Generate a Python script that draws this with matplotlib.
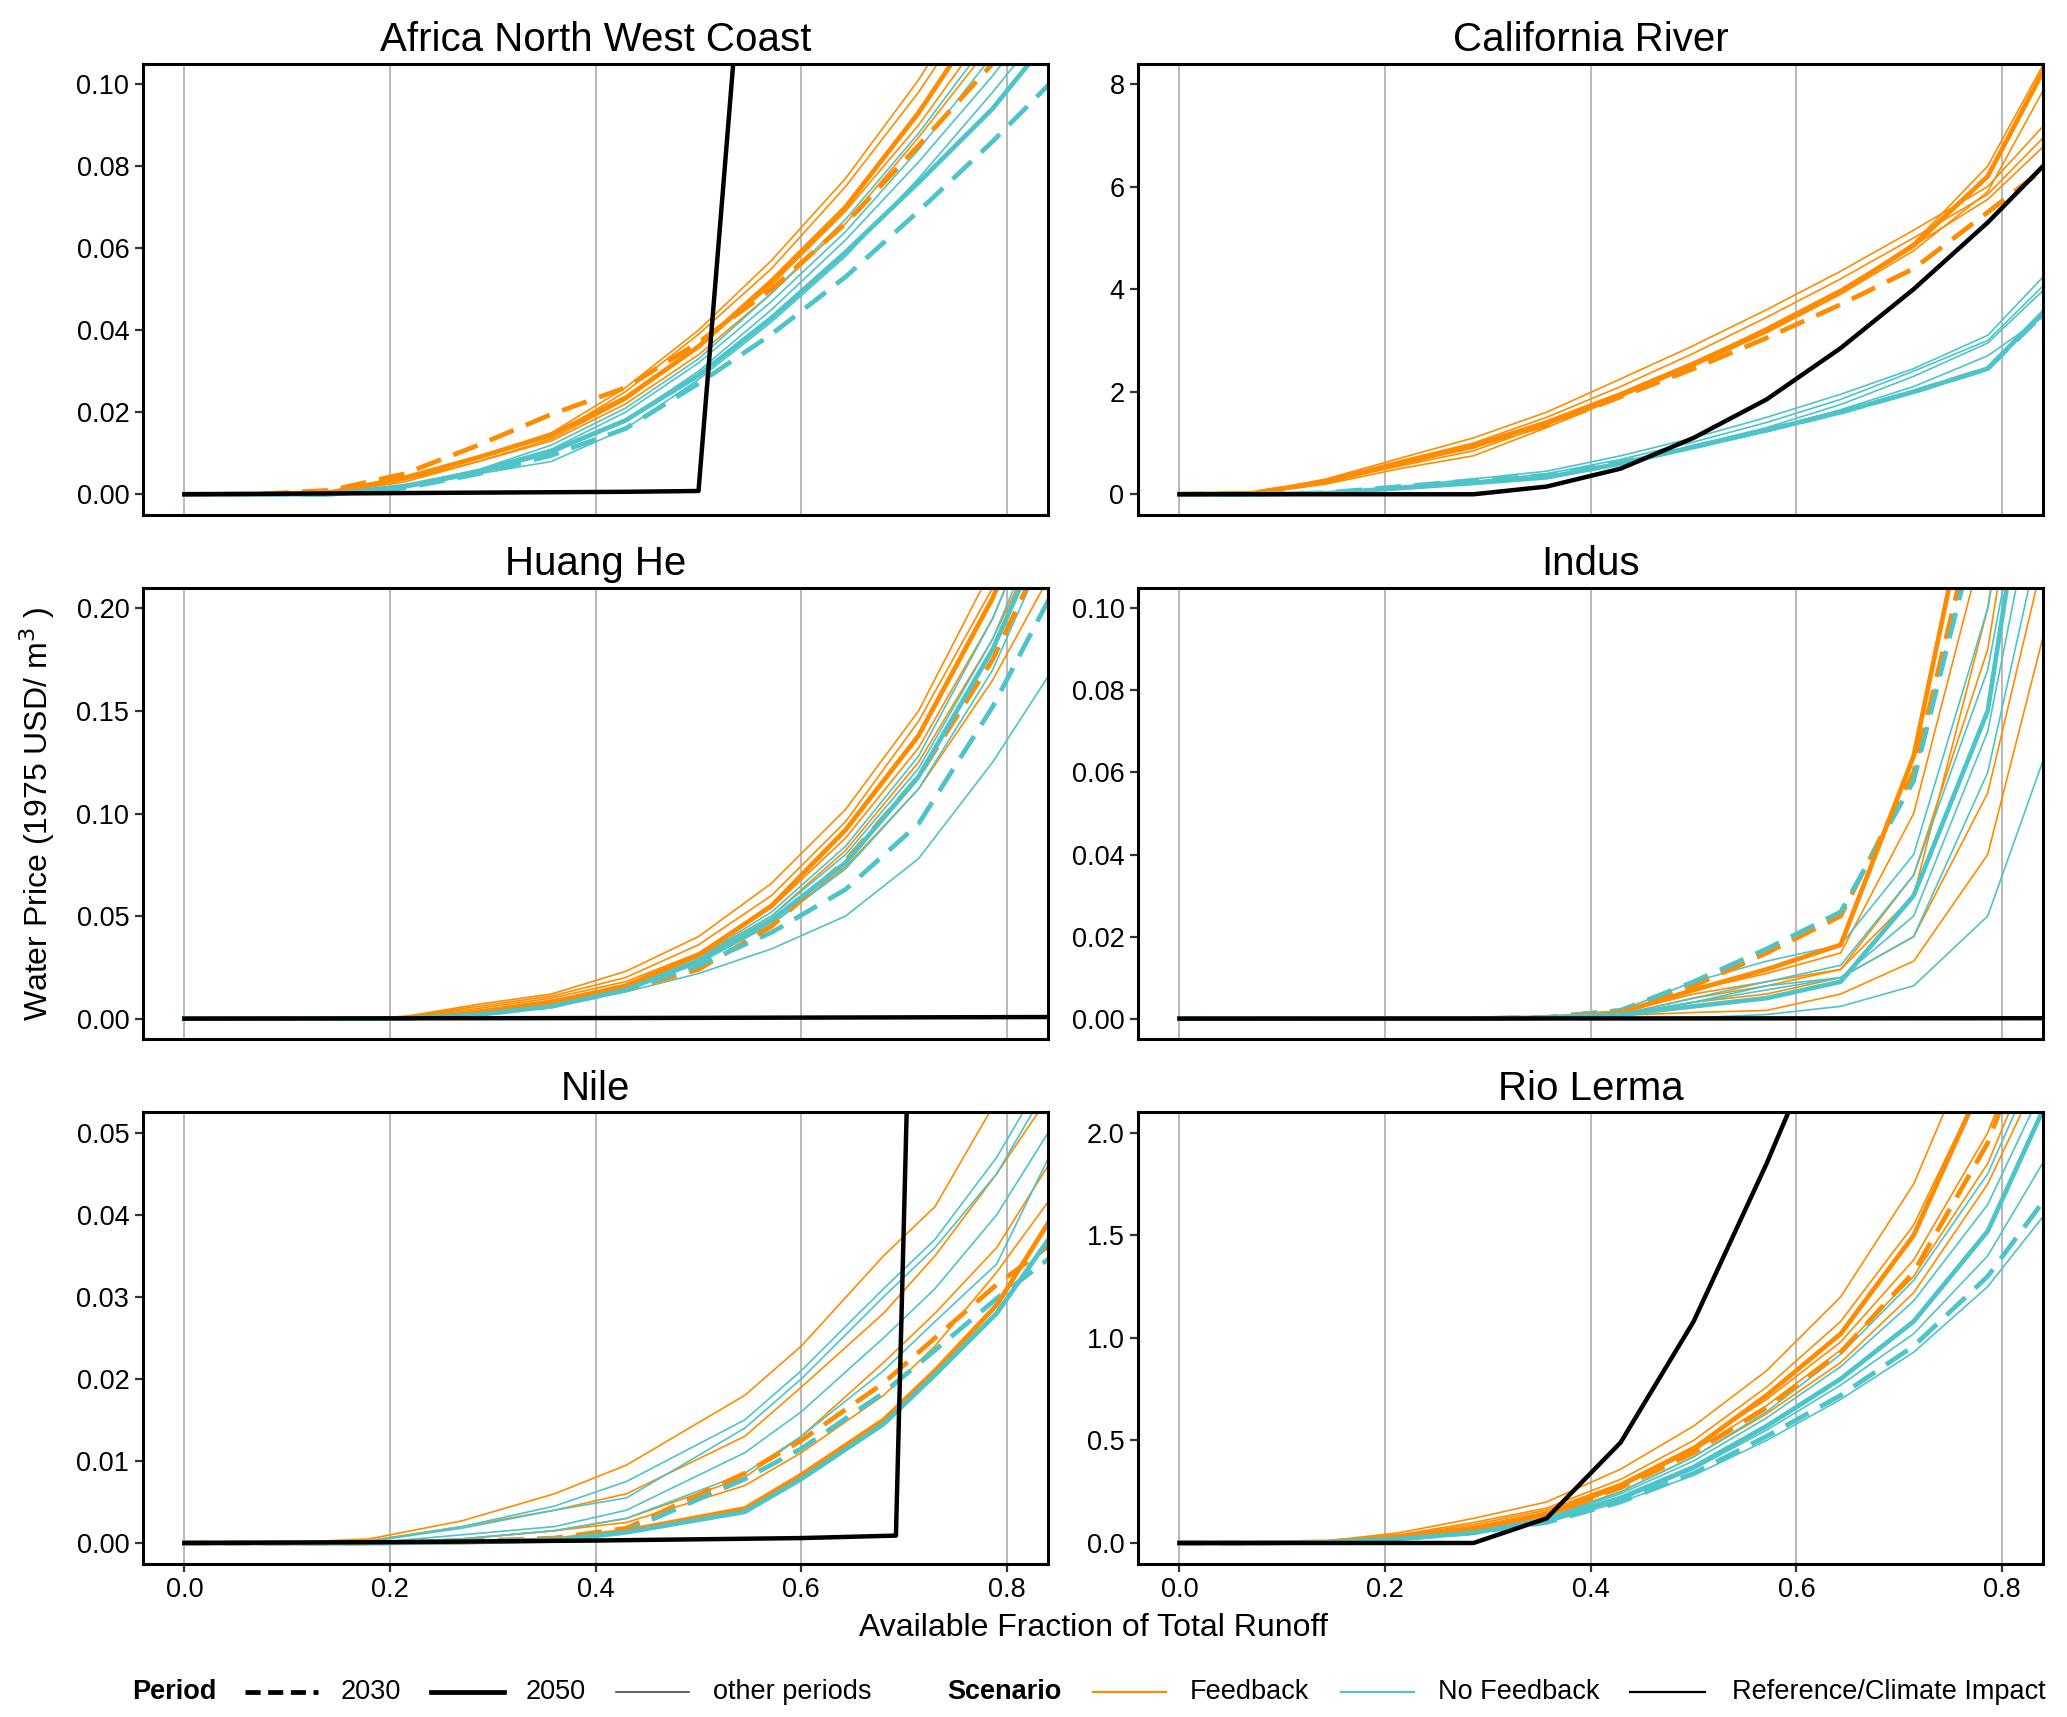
import numpy as np
import matplotlib
matplotlib.use("Agg")
import matplotlib.pyplot as plt
from matplotlib.lines import Line2D

plt.rcParams['font.family'] = ['Liberation Sans', 'DejaVu Sans']

ORANGE = '#FF8C00'
CYAN = '#4DC4C9'

# available fraction of total runoff (grid of the supply curves)
frac = [0, 0.071, 0.143, 0.214, 0.286, 0.357, 0.429, 0.5, 0.571, 0.643, 0.714, 0.786, 0.857]
frac_nile = [0, 0.09, 0.18, 0.27, 0.36, 0.43, 0.545, 0.6, 0.68, 0.73, 0.79, 0.86]

# ---- Africa North West Coast
africa_fb_2030 = [0, 0, 0.001, 0.005, 0.012, 0.0195, 0.026, 0.037, 0.05, 0.066, 0.085, 0.105, 0.13]
africa_fb_2050 = [0, 0, 0.0005, 0.004, 0.009, 0.0145, 0.0235, 0.036, 0.052, 0.07, 0.093, 0.12, 0.15]
africa_fb_other = [
    [0, 0, 0.0005, 0.004, 0.009, 0.015, 0.026, 0.040, 0.057, 0.077, 0.101, 0.13, 0.16],
    [0, 0, 0.0005, 0.004, 0.009, 0.014, 0.025, 0.039, 0.055, 0.075, 0.098, 0.125, 0.155],
    [0, 0, 0.0005, 0.0035, 0.008, 0.0135, 0.023, 0.036, 0.051, 0.069, 0.09, 0.115, 0.145],
    [0, 0, 0.0004, 0.003, 0.008, 0.013, 0.022, 0.034, 0.049, 0.066, 0.087, 0.11, 0.14],
]
africa_nf_2030 = [0, 0, 0, 0.0015, 0.005, 0.0095, 0.016, 0.027, 0.039, 0.053, 0.069, 0.086, 0.104]
africa_nf_2050 = [0, 0, 0, 0.002, 0.0055, 0.0105, 0.018, 0.029, 0.043, 0.059, 0.076, 0.094, 0.116]
africa_nf_other = [
    [0, 0, 0, 0.002, 0.006, 0.011, 0.02, 0.032, 0.047, 0.064, 0.084, 0.107, 0.13],
    [0, 0, 0, 0.002, 0.006, 0.012, 0.021, 0.033, 0.049, 0.067, 0.088, 0.112, 0.14],
    [0, 0, 0, 0.002, 0.005, 0.010, 0.018, 0.030, 0.045, 0.062, 0.081, 0.102, 0.125],
    [0, 0, 0, 0.0015, 0.005, 0.008, 0.016, 0.028, 0.042, 0.058, 0.077, 0.098, 0.12],
]
africa_ref_x = [0, 0.143, 0.286, 0.429, 0.5, 0.571]
africa_ref = [0, 0.0002, 0.0004, 0.0006, 0.0008, 0.22]

# ---- California River
calif_fb_2030 = [0, 0.02, 0.25, 0.6, 0.95, 1.35, 1.9, 2.45, 3.05, 3.7, 4.4, 5.5, 6.6]
calif_fb_2050 = [0, 0.02, 0.25, 0.6, 0.95, 1.4, 1.95, 2.55, 3.2, 3.95, 4.85, 6.2, 8.9]
calif_fb_other = [
    [0, 0.02, 0.3, 0.7, 1.1, 1.6, 2.25, 2.9, 3.6, 4.35, 5.15, 6.0, 7.55],
    [0, 0.02, 0.28, 0.65, 1.0, 1.5, 2.1, 2.75, 3.45, 4.2, 5.0, 5.85, 7.3],
    [0, 0.02, 0.25, 0.55, 0.85, 1.35, 1.9, 2.55, 3.25, 4.0, 4.85, 5.75, 7.1],
    [0, 0.02, 0.25, 0.6, 0.9, 1.4, 1.95, 2.55, 3.2, 3.95, 4.9, 6.4, 9.0],
    [0, 0.01, 0.2, 0.5, 0.75, 1.3, 1.9, 2.5, 3.15, 3.9, 4.75, 5.9, 8.5],
]
calif_nf_2030 = [0, 0, 0.03, 0.15, 0.27, 0.37, 0.62, 0.93, 1.25, 1.6, 2.0, 2.45, 3.85]
calif_nf_2050 = [0, 0, 0.02, 0.12, 0.22, 0.33, 0.6, 0.92, 1.25, 1.6, 2.0, 2.45, 3.9]
calif_nf_other = [
    [0, 0, 0.03, 0.15, 0.3, 0.45, 0.75, 1.1, 1.5, 1.95, 2.45, 3.1, 4.6],
    [0, 0, 0.02, 0.13, 0.25, 0.4, 0.68, 1.02, 1.4, 1.85, 2.4, 3.0, 4.4],
    [0, 0, 0.02, 0.12, 0.22, 0.35, 0.62, 0.95, 1.3, 1.75, 2.3, 2.95, 4.3],
    [0, 0, 0.02, 0.1, 0.2, 0.33, 0.6, 0.92, 1.25, 1.65, 2.1, 2.7, 3.7],
]
calif_ref_x = frac
calif_ref = [0, 0, 0, 0, 0, 0.15, 0.5, 1.1, 1.85, 2.85, 4.0, 5.3, 6.75]

# ---- Huang He
huang_fb_2030 = [0, 0, 0, 0, 0.002, 0.007, 0.014, 0.024, 0.045, 0.077, 0.118, 0.175, 0.25]
huang_fb_2050 = [0, 0, 0, 0, 0.003, 0.008, 0.016, 0.031, 0.055, 0.092, 0.138, 0.205, 0.29]
huang_fb_other = [
    [0, 0, 0, 0.001, 0.007, 0.012, 0.023, 0.04, 0.066, 0.102, 0.15, 0.22, 0.31],
    [0, 0, 0, 0.001, 0.006, 0.011, 0.02, 0.036, 0.06, 0.096, 0.145, 0.21, 0.3],
    [0, 0, 0, 0.001, 0.005, 0.01, 0.018, 0.032, 0.054, 0.088, 0.132, 0.195, 0.28],
    [0, 0, 0, 0.0005, 0.004, 0.009, 0.016, 0.028, 0.046, 0.074, 0.112, 0.165, 0.23],
    [0, 0, 0, 0.0005, 0.004, 0.008, 0.016, 0.03, 0.05, 0.082, 0.125, 0.185, 0.26],
]
huang_nf_2030 = [0, 0, 0, 0, 0.002, 0.006, 0.014, 0.026, 0.042, 0.063, 0.095, 0.152, 0.22]
huang_nf_2050 = [0, 0, 0, 0, 0.002, 0.006, 0.014, 0.028, 0.048, 0.076, 0.118, 0.18, 0.26]
huang_nf_other = [
    [0, 0, 0, 0, 0.002, 0.006, 0.013, 0.022, 0.034, 0.05, 0.078, 0.125, 0.18],
    [0, 0, 0, 0, 0.002, 0.006, 0.015, 0.029, 0.05, 0.08, 0.122, 0.185, 0.27],
    [0, 0, 0, 0, 0.002, 0.006, 0.014, 0.027, 0.046, 0.073, 0.112, 0.17, 0.25],
    [0, 0, 0, 0, 0.002, 0.007, 0.016, 0.03, 0.052, 0.084, 0.128, 0.195, 0.28],
]
huang_ref_x = [0, 0.429, 0.857]
huang_ref = [0, 0.0003, 0.0008]

# ---- Indus
indus_fb_2030 = [0, 0, 0, 0, 0, 0.0003, 0.002, 0.008, 0.016, 0.025, 0.06, 0.135, 0.29]
indus_fb_2050 = [0, 0, 0, 0, 0, 0.0002, 0.0015, 0.007, 0.012, 0.018, 0.064, 0.15, 0.3]
indus_fb_other = [
    [0, 0, 0, 0, 0, 0.0003, 0.0015, 0.006, 0.009, 0.012, 0.035, 0.09, 0.2],
    [0, 0, 0, 0, 0, 0.0002, 0.001, 0.004, 0.006, 0.01, 0.02, 0.055, 0.13],
    [0, 0, 0, 0, 0, 0.0002, 0.0008, 0.0015, 0.002, 0.006, 0.014, 0.04, 0.11],
    [0, 0, 0, 0, 0, 0.0003, 0.0015, 0.007, 0.011, 0.016, 0.05, 0.12, 0.25],
    [0, 0, 0, 0, 0, 0.0002, 0.001, 0.005, 0.008, 0.012, 0.03, 0.1, 0.22],
]
indus_nf_2030 = [0, 0, 0, 0, 0, 0.0003, 0.002, 0.009, 0.017, 0.026, 0.058, 0.13, 0.28]
indus_nf_2050 = [0, 0, 0, 0, 0, 0.0002, 0.001, 0.003, 0.005, 0.009, 0.03, 0.075, 0.19]
indus_nf_other = [
    [0, 0, 0, 0, 0, 0, 0, 0.0002, 0.001, 0.003, 0.008, 0.025, 0.075],
    [0, 0, 0, 0, 0, 0.0002, 0.001, 0.004, 0.008, 0.01, 0.025, 0.07, 0.16],
    [0, 0, 0, 0, 0, 0.0003, 0.002, 0.009, 0.014, 0.018, 0.04, 0.1, 0.2],
    [0, 0, 0, 0, 0, 0.0002, 0.001, 0.005, 0.009, 0.013, 0.035, 0.085, 0.18],
    [0, 0, 0, 0, 0, 0.0002, 0.001, 0.004, 0.007, 0.01, 0.02, 0.06, 0.14],
]
indus_ref_x = [0, 0.857]
indus_ref = [0, 0.0001]

# ---- Nile
nile_fb_2030 = [0, 0, 0, 0.0002, 0.0006, 0.0018, 0.0085, 0.0125, 0.0195, 0.025, 0.0315, 0.038]
nile_fb_2050 = [0, 0, 0, 0.0001, 0.0004, 0.0015, 0.0042, 0.0083, 0.015, 0.021, 0.029, 0.043]
nile_fb_other = [
    [0, 0, 0.0005, 0.0027, 0.006, 0.0095, 0.018, 0.024, 0.035, 0.041, 0.054, 0.07],
    [0, 0, 0.0003, 0.002, 0.004, 0.006, 0.013, 0.019, 0.028, 0.035, 0.045, 0.058],
    [0, 0, 0, 0.0005, 0.0015, 0.003, 0.008, 0.013, 0.022, 0.028, 0.036, 0.05],
    [0, 0, 0, 0.0005, 0.0015, 0.0025, 0.007, 0.011, 0.018, 0.024, 0.033, 0.045],
]
nile_nf_2030 = [0, 0, 0, 0.0002, 0.0005, 0.0015, 0.0078, 0.0115, 0.0183, 0.0235, 0.0298, 0.0365]
nile_nf_2050 = [0, 0, 0, 0.0001, 0.0003, 0.0013, 0.0038, 0.0078, 0.0145, 0.0205, 0.028, 0.0405]
nile_nf_other = [
    [0, 0, 0.0002, 0.002, 0.0045, 0.0075, 0.015, 0.021, 0.031, 0.037, 0.047, 0.062],
    [0, 0, 0.0002, 0.0018, 0.004, 0.0055, 0.014, 0.02, 0.03, 0.036, 0.045, 0.06],
    [0, 0, 0, 0.001, 0.002, 0.004, 0.011, 0.016, 0.025, 0.031, 0.04, 0.054],
    [0, 0, 0, 0.0005, 0.0015, 0.003, 0.0085, 0.013, 0.021, 0.027, 0.034, 0.052],
]
nile_ref_x = [0, 0.2, 0.4, 0.6, 0.692, 0.71]
nile_ref = [0, 0.0001, 0.0003, 0.0006, 0.0009, 0.09]

# ---- Rio Lerma
lerma_fb_2030 = [0, 0, 0.005, 0.03, 0.07, 0.14, 0.27, 0.44, 0.66, 0.93, 1.32, 1.95, 2.9]
lerma_fb_2050 = [0, 0, 0.005, 0.03, 0.07, 0.14, 0.28, 0.46, 0.72, 1.02, 1.5, 2.3, 3.3]
lerma_fb_other = [
    [0, 0, 0.01, 0.05, 0.12, 0.2, 0.36, 0.57, 0.84, 1.2, 1.75, 2.6, 3.6],
    [0, 0, 0.008, 0.04, 0.1, 0.17, 0.31, 0.5, 0.76, 1.08, 1.55, 2.3, 3.3],
    [0, 0, 0.006, 0.035, 0.09, 0.16, 0.29, 0.47, 0.7, 0.98, 1.38, 2.0, 2.9],
    [0, 0, 0.005, 0.03, 0.08, 0.15, 0.28, 0.45, 0.67, 0.94, 1.3, 1.85, 2.7],
    [0, 0, 0.005, 0.03, 0.07, 0.13, 0.25, 0.42, 0.63, 0.88, 1.22, 1.75, 2.5],
]
lerma_nf_2030 = [0, 0, 0.003, 0.02, 0.05, 0.1, 0.2, 0.34, 0.52, 0.72, 0.96, 1.3, 1.78]
lerma_nf_2050 = [0, 0, 0.003, 0.02, 0.05, 0.11, 0.22, 0.37, 0.57, 0.8, 1.08, 1.52, 2.3]
lerma_nf_other = [
    [0, 0, 0.003, 0.02, 0.05, 0.1, 0.2, 0.33, 0.5, 0.7, 0.93, 1.25, 1.7],
    [0, 0, 0.004, 0.025, 0.06, 0.12, 0.24, 0.4, 0.61, 0.86, 1.18, 1.65, 2.4],
    [0, 0, 0.004, 0.025, 0.06, 0.12, 0.25, 0.42, 0.64, 0.92, 1.28, 1.8, 2.6],
    [0, 0, 0.003, 0.02, 0.05, 0.11, 0.21, 0.36, 0.55, 0.77, 1.02, 1.4, 2.0],
]
lerma_ref_x = frac
lerma_ref = [0, 0, 0, 0, 0, 0.12, 0.49, 1.08, 1.85, 2.7, 3.6, 4.6, 5.6]

regions = ['Africa North West Coast', 'California River', 'Huang He',
           'Indus', 'Nile', 'Rio Lerma']
xgrids = [frac, frac, frac, frac, frac_nile, frac]
fb_2030 = [africa_fb_2030, calif_fb_2030, huang_fb_2030, indus_fb_2030, nile_fb_2030, lerma_fb_2030]
fb_2050 = [africa_fb_2050, calif_fb_2050, huang_fb_2050, indus_fb_2050, nile_fb_2050, lerma_fb_2050]
fb_other = [africa_fb_other, calif_fb_other, huang_fb_other, indus_fb_other, nile_fb_other, lerma_fb_other]
nf_2030 = [africa_nf_2030, calif_nf_2030, huang_nf_2030, indus_nf_2030, nile_nf_2030, lerma_nf_2030]
nf_2050 = [africa_nf_2050, calif_nf_2050, huang_nf_2050, indus_nf_2050, nile_nf_2050, lerma_nf_2050]
nf_other = [africa_nf_other, calif_nf_other, huang_nf_other, indus_nf_other, nile_nf_other, lerma_nf_other]
ref_x = [africa_ref_x, calif_ref_x, huang_ref_x, indus_ref_x, nile_ref_x, lerma_ref_x]
ref_y = [africa_ref, calif_ref, huang_ref, indus_ref, nile_ref, lerma_ref]
y_top = [0.1, 8, 0.2, 0.1, 0.05, 2]
y_step = [0.02, 2, 0.05, 0.02, 0.01, 0.5]
y_fmt = ['{:.2f}', '{:.0f}', '{:.2f}', '{:.2f}', '{:.2f}', '{:.1f}']

fig, axes = plt.subplots(3, 2, figsize=(20.67, 17.17), dpi=100)
fig.subplots_adjust(left=0.0693, right=0.9885, top=0.963, bottom=0.0894,
                    wspace=0.0997, hspace=0.162)

THIN, THICK = 1.2, 3.4
DASH = (0, (5.5, 2.8))

for i, ax in enumerate(axes.flat):
    x = xgrids[i]
    for y in fb_other[i]:
        ax.plot(x, y, color=ORANGE, lw=THIN)
    for y in nf_other[i]:
        ax.plot(x, y, color=CYAN, lw=THIN)
    ax.plot(x, fb_2030[i], color=ORANGE, lw=THICK, ls=DASH)
    ax.plot(x, nf_2030[i], color=CYAN, lw=THICK, ls=DASH)
    ax.plot(x, fb_2050[i], color=ORANGE, lw=THICK)
    ax.plot(x, nf_2050[i], color=CYAN, lw=THICK)
    ax.plot(ref_x[i], ref_y[i], color='black', lw=THICK - 0.2)

    top = y_top[i]
    ax.set_ylim(-0.05 * top, 1.05 * top)
    ax.set_xlim(-0.04, 0.84)
    yt = np.arange(0, top + y_step[i] / 2, y_step[i])
    ax.set_yticks(yt)
    ax.set_yticklabels([y_fmt[i].format(v) for v in yt])
    ax.set_xticks([0, 0.2, 0.4, 0.6, 0.8])
    ax.grid(axis='x', color='#b3b3b3', lw=1.3)
    ax.set_axisbelow(True)
    for s in ax.spines.values():
        s.set_linewidth(2.2)
        s.set_color('black')
    ax.tick_params(axis='both', length=6, width=1.6, color='#333333',
                   labelsize=19.5, labelcolor='black', pad=4)
    ax.set_title(regions[i], fontsize=29, pad=9)
    if i < 4:
        ax.tick_params(axis='x', length=0, labelbottom=False)
    else:
        ax.set_xticklabels(['0.0', '0.2', '0.4', '0.6', '0.8'])

fig.text(0.018, 0.526, 'Water Price (1975 USD/ m$^3$ )', rotation=90,
         ha='center', va='center', fontsize=23)
fig.text(0.529, 0.052, 'Available Fraction of Total Runoff',
         ha='center', va='center', fontsize=23)

# legend row along the bottom
ly = 0.0145
fs = 19.5


def leg_line(x0, x1, **kw):
    fig.add_artist(Line2D([x0, x1], [ly, ly], transform=fig.transFigure, **kw))


def leg_text(x0, s, bold=False):
    fig.text(x0, ly, s, ha='left', va='center', fontsize=fs,
             fontweight='bold' if bold else 'normal')


leg_text(0.0641, 'Period', bold=True)
leg_line(0.1186, 0.1539, color='black', lw=THICK, ls=(0, (3.2, 1.6)))
leg_text(0.1648, '2030')
leg_line(0.2083, 0.2436, color='black', lw=THICK)
leg_text(0.2545, '2050')
leg_line(0.298, 0.3333, color='#444444', lw=THIN)
leg_text(0.3449, 'other periods')
leg_text(0.4583, 'Scenario', bold=True)
leg_line(0.5288, 0.564, color=ORANGE, lw=1.6)
leg_text(0.5756, 'Feedback')
leg_line(0.6487, 0.684, color=CYAN, lw=1.6)
leg_text(0.6955, 'No Feedback')
leg_line(0.7885, 0.825, color='black', lw=1.6)
leg_text(0.8378, 'Reference/Climate Impact')

fig.savefig('out.png', dpi=100)
